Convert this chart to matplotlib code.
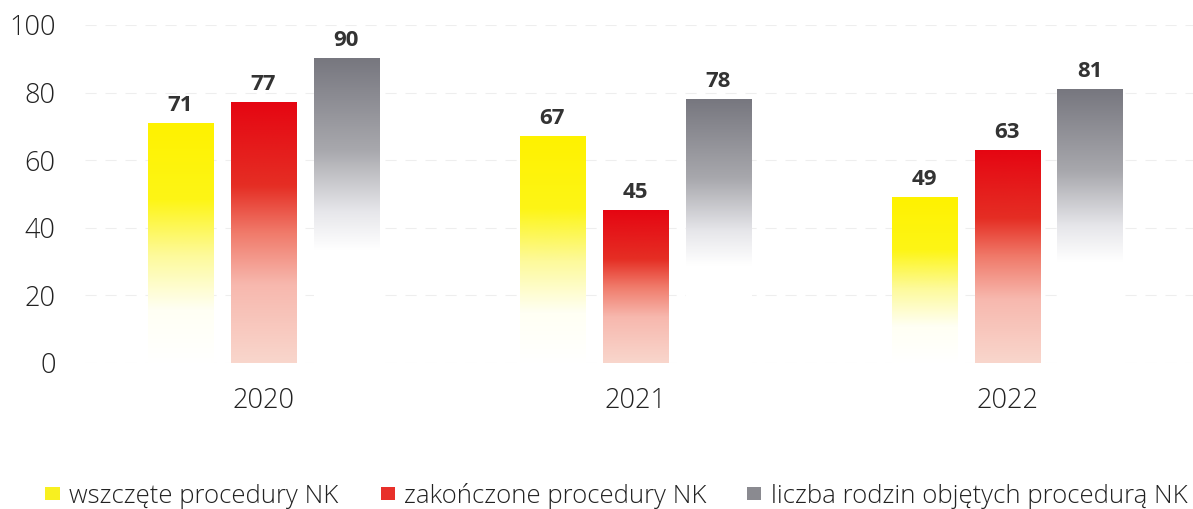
"""Gradient grouped bars: procedury NK 2020-2022."""
import matplotlib.pyplot as plt
import numpy as np
from matplotlib.colors import LinearSegmentedColormap
from matplotlib.patches import Rectangle

YEARS = ["2020", "2021", "2022"]
SERIES = ["wszczęte procedury NK", "zakończone procedury NK",
          "liczba rodzin objętych procedurą NK"]
WSZCZETE = [71, 67, 49]
ZAKONCZONE = [77, 45, 63]
RODZINY = [90, 78, 81]

# gradients run bottom (0) -> top (1) of each bar
CMAPS = [
    LinearSegmentedColormap.from_list("yel", [
        (0.0, "#ffffff"), (0.22, "#fffff4"), (0.45, "#fdfa9a"),
        (0.68, "#fdf516"), (1.0, "#fff200")]),
    LinearSegmentedColormap.from_list("red", [
        (0.0, "#f9d6cc"), (0.3, "#f7b8ae"), (0.5, "#f07a6a"),
        (0.68, "#e52e24"), (1.0, "#e50612")]),
    LinearSegmentedColormap.from_list("gry", [
        (0.0, "#ffffff"), (0.37, "#ffffff"), (0.5, "#e6e6ea"),
        (0.7, "#a8a8ad"), (1.0, "#77777f")]),
]
LEGEND_COLORS = ["#f8f020", "#e8302a", "#8a8a90"]

plt.rcParams["font.family"] = ["Open Sans", "DejaVu Sans"]

fig = plt.figure(figsize=(11.93, 5.09), dpi=100)
ax = fig.add_axes([0.071, 0.287, 0.929, 0.664])

x = np.arange(len(YEARS))
width = 0.175
pitch = 0.223
grad = np.linspace(0, 1, 256).reshape(-1, 1)

for i, vals in enumerate([WSZCZETE, ZAKONCZONE, RODZINY]):
    for xi, v in zip(x, vals):
        cx = xi + (i - 1) * pitch
        ax.imshow(grad, cmap=CMAPS[i], origin="lower", aspect="auto",
                  extent=(cx - width / 2, cx + width / 2, 0, v),
                  interpolation="bilinear", zorder=2)
        ax.text(cx, v + 2.2, str(v), ha="center", va="bottom",
                fontsize=16, fontweight="bold", color="#333333")

ax.set_xlim(-0.48, 2.5)
ax.set_ylim(0, 100)
ax.set_yticks([0, 20, 40, 60, 80, 100])
ax.set_xticks(x)
ax.set_xticklabels(YEARS)
ax.tick_params(length=0, labelsize=19.5, colors="#222222")
for lab in ax.get_xticklabels() + ax.get_yticklabels():
    lab.set_fontweight("light")
ax.tick_params(axis="y", pad=21)
ax.tick_params(axis="x", pad=17)
ax.grid(axis="y", color="#eeeeee", linestyle=(0, (10, 8)), linewidth=0.8, zorder=0)
for s in ax.spines.values():
    s.set_visible(False)

# legend drawn by hand so the entries sit where the original has them
legend_x = [0.038, 0.319, 0.626]
for lx, name, col in zip(legend_x, SERIES, LEGEND_COLORS):
    fig.patches.append(Rectangle((lx, 0.018), 0.012, 0.026, transform=fig.transFigure,
                                 facecolor=col, edgecolor="none"))
    fig.text(lx + 0.020, 0.012, name, fontsize=18.5, fontweight="light",
             color="#222222", va="baseline")

fig.savefig("out.png", dpi=100)
